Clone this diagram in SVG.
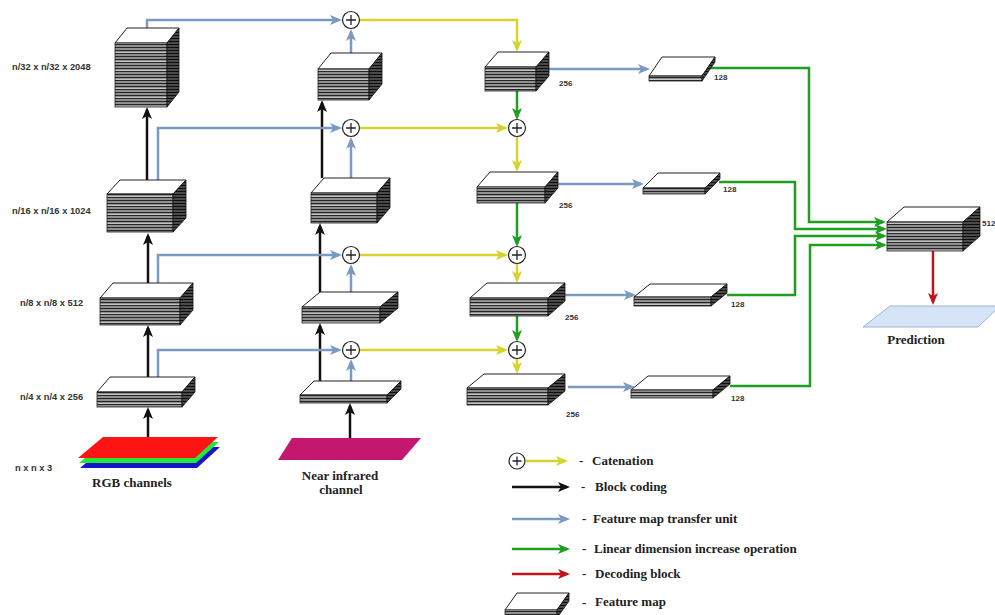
<svg xmlns="http://www.w3.org/2000/svg" width="995" height="615" viewBox="0 0 995 615">
<style>
.top{fill:#fff;stroke:#222;stroke-width:1}
.front{fill:url(#stripe);stroke:#222;stroke-width:0.8}
.side{fill:url(#sstripe);stroke:#111;stroke-width:0.8}
.lbl{font-family:"Liberation Sans",Arial,sans-serif;font-weight:bold;font-size:9.3px;fill:#333}
.num{font-family:"Liberation Sans",Arial,sans-serif;font-weight:bold;font-size:8px;fill:#333}
.ser{font-family:"Liberation Serif","Times New Roman",serif;font-weight:bold;font-size:13px;fill:#222}
.leg{font-family:"Liberation Serif","Times New Roman",serif;font-weight:bold;font-size:13px;fill:#222}
.c{fill:none;stroke-width:2.5}
.bk{stroke:#111;marker-end:url(#mbk)}
.bl{stroke:#7b9ac2;marker-end:url(#mbl)}
.ye{stroke:#d6d22e;marker-end:url(#mye)}
.gr{stroke:#1f9e22;marker-end:url(#mgr)}
.rd{stroke:#c0161b;marker-end:url(#mrd)}
.circ{fill:#fff;stroke:#222;stroke-width:1.2}
.plus{stroke:#222;stroke-width:1.3;fill:none}
</style>
<defs>
<pattern id="stripe" patternUnits="userSpaceOnUse" width="4" height="9"><rect width="4" height="9" fill="#909090"/><rect y="2" width="4" height="1" fill="#262626"/><rect y="5" width="4" height="1" fill="#262626"/><rect y="7" width="4" height="0.6" fill="#e8e8e8"/><rect y="8" width="4" height="1" fill="#262626"/></pattern>
<pattern id="sstripe" patternUnits="userSpaceOnUse" width="4" height="3"><rect width="4" height="3" fill="#4a4a4a"/><rect y="2" width="4" height="1" fill="#0d0d0d"/></pattern>
<marker id="mbk" viewBox="0 0 12 10" markerWidth="12" markerHeight="10" refX="9" refY="5" orient="auto" markerUnits="userSpaceOnUse"><path d="M0,0 L12,5 L0,10 L3,5 Z" fill="#111"/></marker>
<marker id="mbl" viewBox="0 0 12 10" markerWidth="12" markerHeight="10" refX="9" refY="5" orient="auto" markerUnits="userSpaceOnUse"><path d="M0,0 L12,5 L0,10 L3,5 Z" fill="#7b9ac2"/></marker>
<marker id="mye" viewBox="0 0 12 10" markerWidth="12" markerHeight="10" refX="9" refY="5" orient="auto" markerUnits="userSpaceOnUse"><path d="M0,0 L12,5 L0,10 L3,5 Z" fill="#d6d22e"/></marker>
<marker id="mgr" viewBox="0 0 12 10" markerWidth="12" markerHeight="10" refX="9" refY="5" orient="auto" markerUnits="userSpaceOnUse"><path d="M0,0 L12,5 L0,10 L3,5 Z" fill="#1f9e22"/></marker>
<marker id="mrd" viewBox="0 0 12 10" markerWidth="12" markerHeight="10" refX="9" refY="5" orient="auto" markerUnits="userSpaceOnUse"><path d="M0,0 L12,5 L0,10 L3,5 Z" fill="#c0161b"/></marker>
</defs>
<rect width="995" height="615" fill="#fff"/>

<g id="connectors">
<path class="c bk" d="M148,437 V410"/>
<path class="c bk" d="M148,377 V328"/>
<path class="c bk" d="M148,283 V236"/>
<path class="c bk" d="M147,180 V110"/>
<path class="c bk" d="M350,438 V406"/>
<path class="c bk" d="M320,381 V326"/>
<path class="c bk" d="M320,292 V226"/>
<path class="c bk" d="M322,178 V103"/>
<path class="c bl" d="M147,28 V20 H339"/>
<path class="c bl" d="M158,180 V128 H339"/>
<path class="c bl" d="M158,283 V255 H339"/>
<path class="c bl" d="M158,377 V350 H339"/>
<path class="c bl" d="M351,53 V32"/>
<path class="c bl" d="M351,178 V140"/>
<path class="c bl" d="M351,292 V267"/>
<path class="c bl" d="M351,381 V362"/>
<path class="c bl" d="M549,69 H647"/>
<path class="c bl" d="M557,184 H641"/>
<path class="c bl" d="M565,295 H633"/>
<path class="c bl" d="M568,387 H632"/>
<path class="c ye" d="M360,20 H517 V49"/>
<path class="c ye" d="M360,128 H505"/>
<path class="c ye" d="M360,255 H505"/>
<path class="c ye" d="M360,350 H505"/>
<path class="c ye" d="M517,137 V169"/>
<path class="c ye" d="M517,264 V280"/>
<path class="c ye" d="M517,359 V371"/>
<path class="c gr" d="M517,91 V117"/>
<path class="c gr" d="M517,203 V244"/>
<path class="c gr" d="M517,316 V339"/>
<path class="c gr" d="M711,68 H809 V222 H883"/>
<path class="c gr" d="M719,182 H795 V229 H884"/>
<path class="c gr" d="M727,295 H795 V236 H884"/>
<path class="c gr" d="M730,386 H810 V245 H884"/>
<path class="c rd" d="M933,251 V302"/>
</g>

<g id="cat1"><circle class="circ" cx="351" cy="20" r="8.5"/><path class="plus" d="M346,20 H356 M351,15 V25"/></g>
<g id="cat2"><circle class="circ" cx="351" cy="128" r="8.5"/><path class="plus" d="M346,128 H356 M351,123 V133"/></g>
<g id="cat3"><circle class="circ" cx="351" cy="255" r="8.5"/><path class="plus" d="M346,255 H356 M351,250 V260"/></g>
<g id="cat4"><circle class="circ" cx="351" cy="350" r="8.5"/><path class="plus" d="M346,350 H356 M351,345 V355"/></g>
<g id="cat5"><circle class="circ" cx="517" cy="128" r="8.5"/><path class="plus" d="M512,128 H522 M517,123 V133"/></g>
<g id="cat6"><circle class="circ" cx="517" cy="255" r="8.5"/><path class="plus" d="M512,255 H522 M517,250 V260"/></g>
<g id="cat7"><circle class="circ" cx="517" cy="350" r="8.5"/><path class="plus" d="M512,350 H522 M517,345 V355"/></g>

<g id="rgb-input">
<polygon points="105,447 220,447 197,468 80,468" fill="#1414c8"/>
<polygon points="104,442 219,442 196,463 79,463" fill="#22e83a"/>
<polygon points="103,437 218,437 195,458 78,458" fill="#ff1414"/>
</g>
<g id="nir-input"><polygon points="292,438 421,438 402,460 278,460" fill="#c4176f"/></g>

<g id="rgb-b1"><polygon class="top" points="115,43 127,28 179,28 167,43"/><rect class="front" x="115" y="43" width="52" height="64"/><polygon class="side" points="167,43 179,28 179,92 167,107"/></g>
<g id="rgb-b2"><polygon class="top" points="107,194 120,180 186,180 173,194"/><rect class="front" x="107" y="194" width="66" height="38"/><polygon class="side" points="173,194 186,180 186,218 173,232"/></g>
<g id="rgb-b3"><polygon class="top" points="100,298 113,283 193,283 180,298"/><rect class="front" x="100" y="298" width="80" height="27"/><polygon class="side" points="180,298 193,283 193,310 180,325"/></g>
<g id="rgb-b4"><polygon class="top" points="97,392 110,377 195,377 182,392"/><rect class="front" x="97" y="392" width="85" height="15"/><polygon class="side" points="182,392 195,377 195,392 182,407"/></g>

<g id="nir-b1"><polygon class="top" points="318,69 331,53 382,53 369,69"/><rect class="front" x="318" y="69" width="51" height="31"/><polygon class="side" points="369,69 382,53 382,84 369,100"/></g>
<g id="nir-b2"><polygon class="top" points="311,193 324,178 390,178 377,193"/><rect class="front" x="311" y="193" width="66" height="30"/><polygon class="side" points="377,193 390,178 390,208 377,223"/></g>
<g id="nir-b3"><polygon class="top" points="302,307 320,292 398,292 380,307"/><rect class="front" x="302" y="307" width="78" height="16"/><polygon class="side" points="380,307 398,292 398,308 380,323"/></g>
<g id="nir-b4"><polygon class="top" points="300,395 314,381 401,381 387,395"/><rect class="front" x="300" y="395" width="87" height="8"/><polygon class="side" points="387,395 401,381 401,389 387,403"/></g>

<g id="dec-a"><polygon class="top" points="485,67 498,52 549,52 536,67"/><rect class="front" x="485" y="67" width="51" height="24"/><polygon class="side" points="536,67 549,52 549,76 536,91"/></g>
<g id="dec-b"><polygon class="top" points="477,187 490,172 558,172 545,187"/><rect class="front" x="477" y="187" width="68" height="16"/><polygon class="side" points="545,187 558,172 558,188 545,203"/></g>
<g id="dec-c"><polygon class="top" points="470,298 487,283 565,283 548,298"/><rect class="front" x="470" y="298" width="78" height="18"/><polygon class="side" points="548,298 565,283 565,301 548,316"/></g>
<g id="dec-d"><polygon class="top" points="467,388 484,374 565,374 548,388"/><rect class="front" x="467" y="388" width="81" height="17"/><polygon class="side" points="548,388 565,374 565,391 548,405"/></g>

<g id="s1"><polygon class="top" points="649,76 662,57 715,57 702,76"/><rect class="front" x="649" y="76" width="53" height="5"/><polygon class="side" points="702,76 715,57 715,62 702,81"/></g>
<g id="s2"><polygon class="top" points="643,188 658,173 720,173 705,188"/><rect class="front" x="643" y="188" width="62" height="6"/><polygon class="side" points="705,188 720,173 720,179 705,194"/></g>
<g id="s3"><polygon class="top" points="634,297 650,284 727,284 711,297"/><rect class="front" x="634" y="297" width="77" height="9"/><polygon class="side" points="711,297 727,284 727,293 711,306"/></g>
<g id="s4"><polygon class="top" points="631,390 648,376 730,376 713,390"/><rect class="front" x="631" y="390" width="82" height="8"/><polygon class="side" points="713,390 730,376 730,384 713,398"/></g>

<g id="fuse"><polygon class="top" points="887,222 904,207 980,207 963,222"/><rect class="front" x="887" y="222" width="76" height="29"/><polygon class="side" points="963,222 980,207 980,236 963,251"/><text class="num" x="982" y="226">512</text></g>

<g id="prediction"><polygon points="890,306 1000,306 978,327 863,327" fill="#d5e5f7" stroke="#9bb4cc" stroke-width="1"/><text class="ser" x="916" y="344" text-anchor="middle">Prediction</text></g>

<g id="labels">
<text class="lbl" x="12" y="70">n/32 x n/32 x 2048</text>
<text class="lbl" x="12" y="214">n/16 x n/16 x 1024</text>
<text class="lbl" x="20" y="306">n/8 x n/8 x 512</text>
<text class="lbl" x="20" y="400">n/4 x n/4 x 256</text>
<text class="lbl" x="15" y="471">n x n x 3</text>
<text class="ser" x="132" y="487" text-anchor="middle">RGB channels</text>
<text class="ser" x="340" y="480" text-anchor="middle">Near infrared</text>
<text class="ser" x="341" y="494" text-anchor="middle">channel</text>
<text class="num" x="559" y="86">256</text>
<text class="num" x="559" y="208">256</text>
<text class="num" x="565" y="320">256</text>
<text class="num" x="566" y="417">256</text>
<text class="num" x="714" y="80">128</text>
<text class="num" x="723" y="192">128</text>
<text class="num" x="731" y="307">128</text>
<text class="num" x="731" y="401">128</text>
</g>

<g id="legend">
<circle class="circ" cx="517" cy="461" r="8"/><path class="plus" d="M512.5,461 H521.5 M517,456.5 V465.5"/>
<path class="c ye" d="M526,461 H565"/>
<text class="leg" x="579" y="465">-</text><text class="leg" x="592" y="465">Catenation</text>
<path class="c bk" d="M512,487 H567"/>
<text class="leg" x="581" y="491">-</text><text class="leg" x="595" y="491">Block coding</text>
<path class="c bl" d="M512,519 H567"/>
<text class="leg" x="582" y="523">-</text><text class="leg" x="593" y="523">Feature map transfer unit</text>
<path class="c gr" d="M512,549 H567"/>
<text class="leg" x="582" y="553">-</text><text class="leg" x="594" y="553">Linear dimension increase operation</text>
<path class="c rd" d="M512,574 H567"/>
<text class="leg" x="582" y="578">-</text><text class="leg" x="595" y="578">Decoding block</text>
<g id="legend-fm"><polygon class="top" points="505,610 517,593 569,593 557,610"/><rect class="front" x="505" y="610" width="52" height="8"/><polygon class="side" points="557,610 569,593 569,601 557,618"/></g>
<text class="leg" x="582" y="607">-</text><text class="leg" x="595" y="606">Feature map</text>
</g>
</svg>
